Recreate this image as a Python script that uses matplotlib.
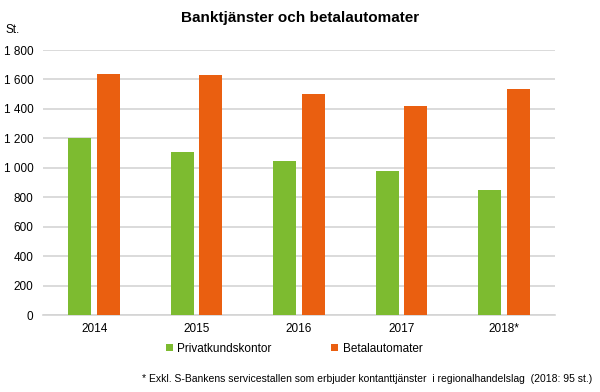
import matplotlib
matplotlib.use("Agg")
import matplotlib.pyplot as plt
import numpy as np

plt.rcParams['font.family'] = ['Liberation Sans', 'DejaVu Sans']

years = ["2014", "2015", "2016", "2017", "2018*"]
privatkundskontor = [1205, 1106, 1045, 977, 852]
betalautomater = [1635, 1628, 1499, 1419, 1535]

green = "#7DBB30"
orange = "#EA5F10"

fig = plt.figure(figsize=(6, 3.92), dpi=100)
ax = fig.add_axes([0.0717, 0.1964, 0.8533, 0.676])

x = np.arange(len(years))
w = 0.225
ax.bar(x - 0.14, privatkundskontor, w, color=green, label="Privatkundskontor", zorder=3)
ax.bar(x + 0.14, betalautomater, w, color=orange, label="Betalautomater", zorder=3)

ax.set_xlim(-0.5, len(years) - 0.5)
ax.set_ylim(0, 1800)
ticks = np.arange(0, 1801, 200)
ax.set_yticks(ticks)
ax.set_yticklabels([f"{t:,}".replace(",", " ") for t in ticks], fontsize=8.5)
ax.set_xticks(x)
ax.set_xticklabels(years, fontsize=8.5)
ax.tick_params(axis="x", length=0, pad=6)
ax.tick_params(axis="y", length=0, pad=7)

ax.grid(axis="y", color="#d4d4d4", linewidth=1.2, zorder=0)
for s in ["top", "right", "left"]:
    ax.spines[s].set_visible(False)
ax.spines["bottom"].set_color("#d4d4d4")
ax.spines["bottom"].set_linewidth(1.2)

fig.text(0.5, 0.955, "Banktjänster och betalautomater", ha="center", va="center",
         fontsize=11, fontweight="bold")
fig.text(0.01, 0.923, "St.", ha="left", va="center", fontsize=8.5)

fig.legend(loc="center", bbox_to_anchor=(0.49, 0.11), ncol=2, frameon=False,
           fontsize=8.5, handlelength=0.6, handleheight=0.6, handletextpad=0.4,
           columnspacing=5)

fig.text(0.987, 0.033, "* Exkl. S-Bankens servicestallen som erbjuder kontanttjänster  i regionalhandelslag  (2018: 95 st.)",
         ha="right", va="center", fontsize=7.5)

fig.savefig("out.png", dpi=100)
